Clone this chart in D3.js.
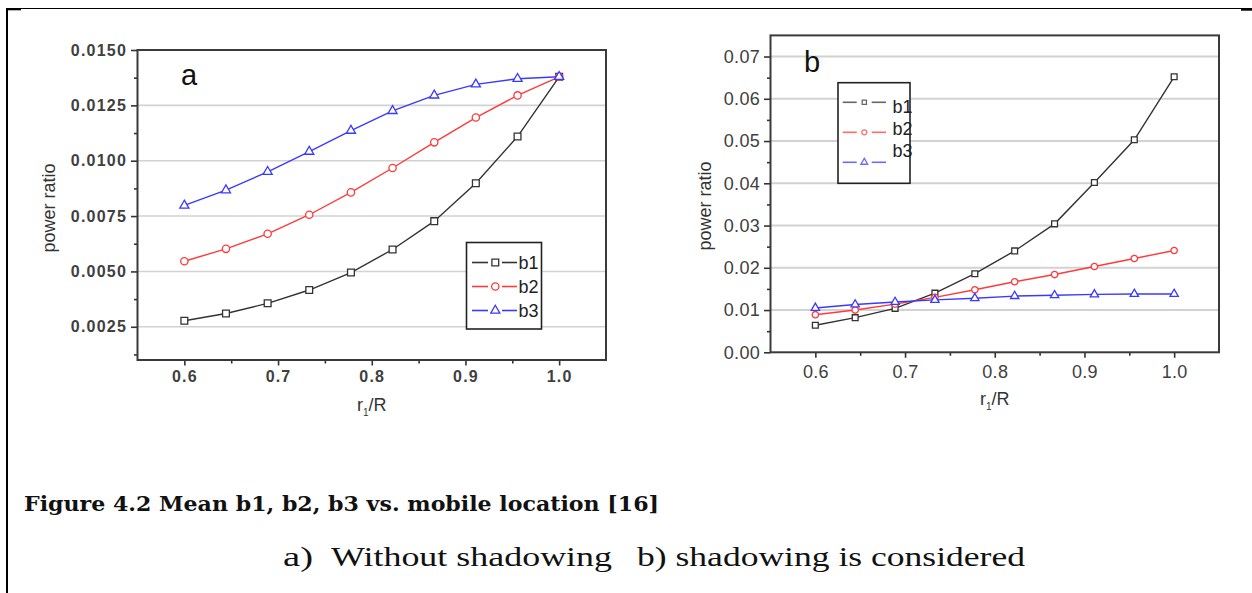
<!DOCTYPE html>
<html>
<head>
<meta charset="utf-8">
<script src="https://cdn.jsdelivr.net/npm/d3@7"></script>
<style>
  html, body { margin: 0; padding: 0; background: #fff; }
  svg { display: block; }
</style>
</head>
<body>
<svg id="fig" width="1252" height="593"></svg>
<script>
// r1/R positions, shared by both panels
const rRatio = [0.6, 0.6444, 0.6889, 0.7333, 0.7778, 0.8222, 0.8667, 0.9111, 0.9556, 1.0];
const seriesNames = ['b1', 'b2', 'b3'];

// panel a: without shadowing
const aB1 = [0.00277, 0.00310, 0.00356, 0.00416, 0.00495, 0.00599, 0.00727, 0.00898, 0.01109, 0.01379];
const aB2 = [0.00546, 0.00602, 0.00670, 0.00756, 0.00857, 0.00967, 0.01083, 0.01195, 0.01295, 0.01379];
const aB3 = [0.00798, 0.00867, 0.00950, 0.01041, 0.01136, 0.01225, 0.01295, 0.01345, 0.01370, 0.01379];

// panel b: shadowing is considered
const bB1 = [0.0064, 0.0082, 0.0104, 0.0140, 0.0186, 0.0240, 0.0304, 0.0402, 0.0503, 0.0652];
const bB2 = [0.0089, 0.0100, 0.0114, 0.0130, 0.0148, 0.0167, 0.0184, 0.0203, 0.0222, 0.0241];
const bB3 = [0.0105, 0.0113, 0.0119, 0.0124, 0.0128, 0.0133, 0.0135, 0.0137, 0.0138, 0.0138];

// tick values
const xTicks = [0.6, 0.7, 0.8, 0.9, 1.0];
const xMinor = [0.65, 0.75, 0.85, 0.95];
const aYTicks = [0.0025, 0.0050, 0.0075, 0.0100, 0.0125, 0.0150];
const aYMinor = [0.00125, 0.00375, 0.00625, 0.00875, 0.01125, 0.01375];
const bYTicks = [0, 0.01, 0.02, 0.03, 0.04, 0.05, 0.06, 0.07];
const bYMinor = [0.005, 0.015, 0.025, 0.035, 0.045, 0.055, 0.065];

const captionTitle = 'Figure 4.2 Mean b1, b2, b3 vs. mobile location [16]';
const captionParts = ['a)', 'Without shadowing', 'b) shadowing is considered'];

const colours = { b1: '#333333', b2: '#ff3a3a', b3: '#3a3aff' };
const symbols = { b1: d3.symbolSquare, b2: d3.symbolCircle, b3: d3.symbolTriangle };
const sansFont = '"Liberation Sans", Arial, sans-serif';

const svg = d3.select('#fig');

// page border (top rule + left rule)
svg.append('line').attr('x1', 6).attr('x2', 1252).attr('y1', 8.5).attr('y2', 8.5)
  .attr('stroke', '#000').attr('stroke-width', 1.2);
svg.append('line').attr('x1', 7).attr('x2', 7).attr('y1', 8).attr('y2', 593)
  .attr('stroke', '#000').attr('stroke-width', 2);
svg.append('line').attr('x1', 6).attr('x2', 21).attr('y1', 9.3).attr('y2', 9.3)
  .attr('stroke', '#000').attr('stroke-width', 2);
svg.append('line').attr('x1', 1241).attr('x2', 1252).attr('y1', 9.7).attr('y2', 9.7)
  .attr('stroke', '#000').attr('stroke-width', 2);

function drawPanel(cfg) {
  const x = d3.scaleLinear().domain([0.55, 1.05]).range([cfg.left, cfg.right]);
  const y = d3.scaleLinear().domain(cfg.yDomain).range([cfg.bottom, cfg.top]);
  const g = svg.append('g');

  // horizontal grid
  g.append('g')
    .selectAll('line')
    .data(cfg.yTicks.filter((d) => d > cfg.yDomain[0] && d < cfg.yDomain[1]))
    .join('line')
    .attr('x1', cfg.left)
    .attr('x2', cfg.right)
    .attr('y1', (d) => y(d))
    .attr('y2', (d) => y(d))
    .attr('stroke', '#d2d2d2')
    .attr('stroke-width', cfg.gridWidth);

  // axes
  const yAxis = g.append('g')
    .attr('transform', `translate(${cfg.left},0)`)
    .call(d3.axisLeft(y).tickValues(cfg.yTicks).tickFormat(cfg.yFormat)
      .tickSize(6.5).tickPadding(cfg.yPad));
  g.append('g')
    .attr('transform', `translate(${cfg.left},0)`)
    .call(d3.axisLeft(y).tickValues(cfg.yMinor).tickFormat('').tickSize(3.5));
  const xAxis = g.append('g')
    .attr('transform', `translate(0,${cfg.bottom})`)
    .call(d3.axisBottom(x).tickValues(xTicks).tickFormat(d3.format('.1f'))
      .tickSize(5.5).tickPadding(cfg.xPad));
  g.append('g')
    .attr('transform', `translate(0,${cfg.bottom})`)
    .call(d3.axisBottom(x).tickValues(xMinor).tickFormat('').tickSize(3.5));

  g.selectAll('.domain').remove();
  g.selectAll('.tick line').attr('stroke', '#333').attr('stroke-width', 1.6);
  [yAxis, xAxis].forEach((ax) => {
    ax.attr('font-family', sansFont).attr('font-size', cfg.tickFont);
    ax.selectAll('text')
      .attr('fill', '#404040')
      .attr('font-weight', cfg.tickWeight)
      .style('letter-spacing', cfg.letterSpacing);
  });

  // frame
  g.append('rect')
    .attr('x', cfg.left)
    .attr('y', cfg.top)
    .attr('width', cfg.right - cfg.left)
    .attr('height', cfg.bottom - cfg.top)
    .attr('fill', 'none')
    .attr('stroke', '#3a3a3a')
    .attr('stroke-width', 2);

  // axis titles
  g.append('text')
    .attr('transform', `translate(${cfg.yTitleX},${cfg.yTitleY}) rotate(-90)`)
    .attr('text-anchor', 'middle')
    .attr('font-family', sansFont)
    .attr('font-size', 18)
    .attr('fill', '#333')
    .text('power ratio');
  const xt = g.append('text')
    .attr('x', (cfg.left + cfg.right) / 2)
    .attr('y', cfg.xTitleY)
    .attr('text-anchor', 'middle')
    .attr('font-family', sansFont)
    .attr('font-size', 18)
    .attr('fill', '#333');
  xt.append('tspan').text('r');
  xt.append('tspan').attr('font-size', 10).attr('dy', 5).text('1');
  xt.append('tspan').attr('dy', -5).text('/R');

  // panel letter
  g.append('text')
    .attr('x', cfg.letterX)
    .attr('y', cfg.letterY)
    .attr('font-family', sansFont)
    .attr('font-size', 29)
    .attr('fill', '#111')
    .text(cfg.letter);

  // series
  const line = d3.line()
    .x((d, i) => x(rRatio[i]))
    .y((d) => y(d));
  cfg.series.forEach((values, k) => {
    const name = seriesNames[k];
    g.append('path')
      .datum(values)
      .attr('d', line)
      .attr('fill', 'none')
      .attr('stroke', colours[name])
      .attr('stroke-width', 1.4);
    g.append('g')
      .selectAll('path')
      .data(values)
      .join('path')
      .attr('transform', (d, i) => `translate(${x(rRatio[i])},${y(d)})`)
      .attr('d', d3.symbol().type(symbols[name]).size(cfg.markerSize[k]))
      .attr('fill', '#fff')
      .attr('stroke', colours[name])
      .attr('stroke-width', 1.3);
  });

  // legend
  const lg = cfg.legend;
  const leg = g.append('g').attr('class', 'legend');
  leg.append('rect')
    .attr('x', lg.x)
    .attr('y', lg.y)
    .attr('width', lg.w)
    .attr('height', lg.h)
    .attr('fill', '#fff')
    .attr('stroke', '#222')
    .attr('stroke-width', 1.6);
  seriesNames.forEach((name, i) => {
    const ly = lg.rowY + i * lg.rowStep;
    const item = leg.append('g').attr('opacity', lg.opacity);
    lg.segments.forEach((s) => {
      item.append('line')
        .attr('x1', s[0]).attr('x2', s[1])
        .attr('y1', ly).attr('y2', ly)
        .attr('stroke', colours[name])
        .attr('stroke-width', 1.6);
    });
    item.append('path')
      .attr('transform', `translate(${lg.markerX},${ly})`)
      .attr('d', d3.symbol().type(symbols[name]).size(lg.markerSize[i]))
      .attr('fill', '#fff')
      .attr('stroke', colours[name])
      .attr('stroke-width', 1.3);
    leg.append('text')
      .attr('x', lg.textX)
      .attr('y', lg.textY + i * lg.textStep)
      .attr('font-family', sansFont)
      .attr('font-size', 18)
      .attr('fill', '#222')
      .text(name);
  });
}

drawPanel({
  left: 137.5, right: 606, top: 50, bottom: 360,
  yDomain: [0.001, 0.015],
  yTicks: aYTicks, yMinor: aYMinor, yFormat: d3.format('.4f'),
  yPad: 4, xPad: 5, tickFont: 16, tickWeight: 'bold', letterSpacing: '1.2px', gridWidth: 1.6,
  yTitleX: 55, yTitleY: 208, xTitleY: 411,
  letter: 'a', letterX: 181, letterY: 85,
  series: [aB1, aB2, aB3],
  markerSize: [46, 42, 36],
  legend: {
    x: 466.5, y: 242.5, w: 75, h: 86.5,
    rowY: 262.5, rowStep: 24, textY: 268.5, textStep: 24, textX: 518.5,
    segments: [[472, 488], [502, 517]], markerX: 495.3,
    markerSize: [46, 42, 36], opacity: 1,
  },
});

drawPanel({
  left: 770.5, right: 1219, top: 35.4, bottom: 352.3,
  yDomain: [0, 0.075],
  yTicks: bYTicks, yMinor: bYMinor, yFormat: d3.format('.2f'),
  yPad: 4, xPad: 7, tickFont: 18, tickWeight: 'normal', letterSpacing: '0.3px', gridWidth: 2,
  yTitleX: 711, yTitleY: 206, xTitleY: 405,
  letter: 'b', letterX: 804, letterY: 71.5,
  series: [bB1, bB2, bB3],
  markerSize: [34, 32, 30],
  legend: {
    x: 838, y: 82.7, w: 72, h: 100.6,
    rowY: 102.3, rowStep: 30, textY: 112.7, textStep: 22, textX: 892.5,
    segments: [[842.7, 856.7], [871.7, 886]], markerX: 864.3,
    markerSize: [18, 20, 20], opacity: 0.75,
  },
});

// caption
svg.append('text')
  .attr('x', 24)
  .attr('y', 511)
  .attr('font-family', '"DejaVu Serif", serif')
  .attr('font-weight', 'bold')
  .attr('font-size', 20)
  .attr('fill', '#111')
  .attr('textLength', 635)
  .attr('lengthAdjust', 'spacingAndGlyphs')
  .text(captionTitle);

const partSpans = [[283, 30], [331, 281], [637, 388]];
svg.append('g')
  .selectAll('text')
  .data(captionParts)
  .join('text')
  .attr('x', (d, i) => partSpans[i][0])
  .attr('y', 566)
  .attr('font-family', '"Liberation Serif", "DejaVu Serif", serif')
  .attr('font-size', 28)
  .attr('fill', '#111')
  .attr('textLength', (d, i) => partSpans[i][1])
  .attr('lengthAdjust', 'spacingAndGlyphs')
  .text((d) => d);
</script>
</body>
</html>
